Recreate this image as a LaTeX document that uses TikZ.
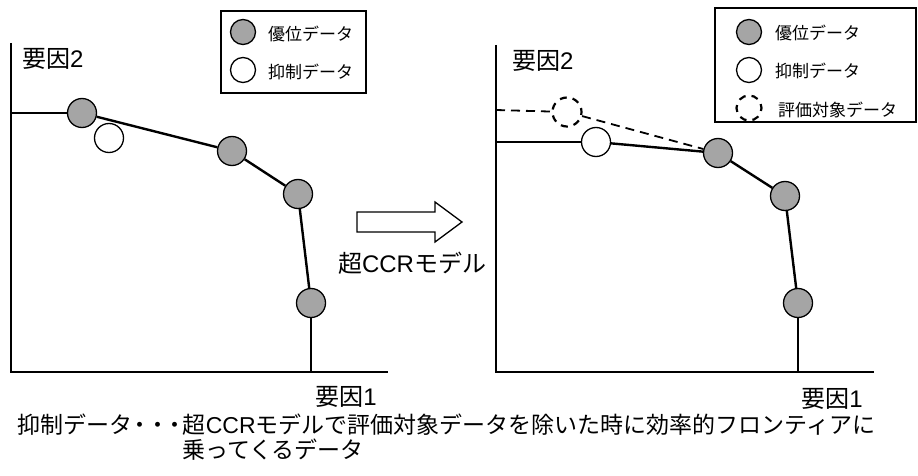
\documentclass[tikz,border=0pt]{standalone}
\usepackage{fontspec}
\setmainfont{Noto Sans CJK JP}
\newfontfamily\lat{Liberation Sans}
\definecolor{domgray}{RGB}{165,165,165}
\begin{document}
\begin{tikzpicture}[x=1pt,y=-1pt,
  dot/.style={circle,draw,line width=1.3pt,minimum size=29pt,inner sep=0pt},
  domdot/.style={dot,fill=domgray},
  supdot/.style={dot,fill=white},
  evaldot/.style={dot,line width=2.2pt,dash pattern=on 7pt off 6pt,dash phase=3pt},
  legdot/.style={minimum size=25pt},
  axis/.style={line width=1.8pt},
  front/.style={line width=2.4pt},
  lbl/.style={font=\fontsize{24}{26}\selectfont,inner sep=0pt},
  captxt/.style={font=\fontsize{23}{25}\selectfont,inner sep=0pt,anchor=west,
    text height=0.84em,text depth=0.08em},
  legtxt/.style={font=\fontsize{17}{20}\selectfont,inner sep=0pt,anchor=west}]
\useasboundingbox (0,0) rectangle (918,476);

% ---------- left panel ----------
\coordinate (la) at (11,43);
\coordinate (lo) at (11,372);
\coordinate (lx) at (388,372);
\draw[axis] (la) -- (lo) -- (lx);
\node[lbl,anchor=west] (ly2) at (22,59) {要因{\lat 2}};
\node[lbl] (lx1) at (346,397) {要因{\lat 1}};

\coordinate (lh) at (11,113);
\coordinate (lb) at (311,372);
\node[domdot] (L1) at (82,113) {};
\node[domdot] (L2) at (232,151) {};
\node[domdot] (L3) at (298,194) {};
\node[domdot] (L4) at (311,303) {};
\node[supdot] (Lw) at (109,138) {};
\draw[front] (lh) -- (L1);
\draw[front] (L1) -- (L2);
\draw[front] (L2) -- (L3);
\draw[front] (L3) -- (L4);
\draw[front] (L4) -- (lb);

% left legend
\draw[line width=1.3pt] (221,11) rectangle (366,93);
\node[domdot,legdot] (lg1) at (243,32) {};
\node[supdot,legdot] (lg2) at (243,70) {};
\node[legtxt] (lt1) at (268,34) {優位データ};
\node[legtxt] (lt2) at (268,72) {抑制データ};

% ---------- arrow ----------
\draw[line width=1.3pt,fill=white] (357,212) -- (435,212) -- (435,202) -- (462,222)
  -- (435,242) -- (435,232) -- (357,232) -- cycle;
\node[lbl] (model) at (412,263) {超{\lat CCR}モデル};

% ---------- right panel ----------
\coordinate (ra) at (496,45);
\coordinate (ro) at (496,372);
\coordinate (rx) at (874,372);
\draw[axis] (ra) -- (ro) -- (rx);
\node[lbl,anchor=west] (ry2) at (512,61) {要因{\lat 2}};
\node[lbl] (rx1) at (832,399) {要因{\lat 1}};

\coordinate (rhd) at (496,110);
\coordinate (rhs) at (496,142);
\coordinate (rb) at (798,372);
\node[evaldot] (Rd) at (567,112) {};
\node[supdot] (Rw) at (596,142) {};
\node[domdot] (R1) at (718,153) {};
\node[domdot] (R2) at (785,196) {};
\node[domdot] (R3) at (798,303) {};
\draw[line width=1.8pt,dash pattern=on 9pt off 6pt] (rhd) -- (Rd);
\draw[line width=1.8pt,dash pattern=on 9pt off 6pt] (Rd) -- (R1);
\draw[line width=1.8pt] (rhs) -- (Rw);
\draw[front] (Rw) -- (R1);
\draw[front] (R1) -- (R2);
\draw[front] (R2) -- (R3);
\draw[front] (R3) -- (rb);

% right legend
\draw[line width=1.3pt] (715,8) rectangle (916,122);
\node[domdot,legdot] (rg1) at (749,32) {};
\node[supdot,legdot] (rg2) at (749,70) {};
\node[evaldot,legdot] (rg3) at (749,108) {};
\node[legtxt] (rt1) at (775,33) {優位データ};
\node[legtxt] (rt2) at (775,71) {抑制データ};
\node[legtxt] (rt3) at (778,110) {評価対象データ};

% ---------- caption ----------
\node[captxt] (cap1) at (17,430) {抑制データ\hspace{-0.15em}・\hspace{-0.25em}・\hspace{-0.25em}・\hspace{-0.15em}超{\lat CCR}モデルで評価対象データを除いた時に効率的フロンティアに};
\node[captxt] (cap2) at (182,455) {乗ってくるデータ};
\end{tikzpicture}
\end{document}
